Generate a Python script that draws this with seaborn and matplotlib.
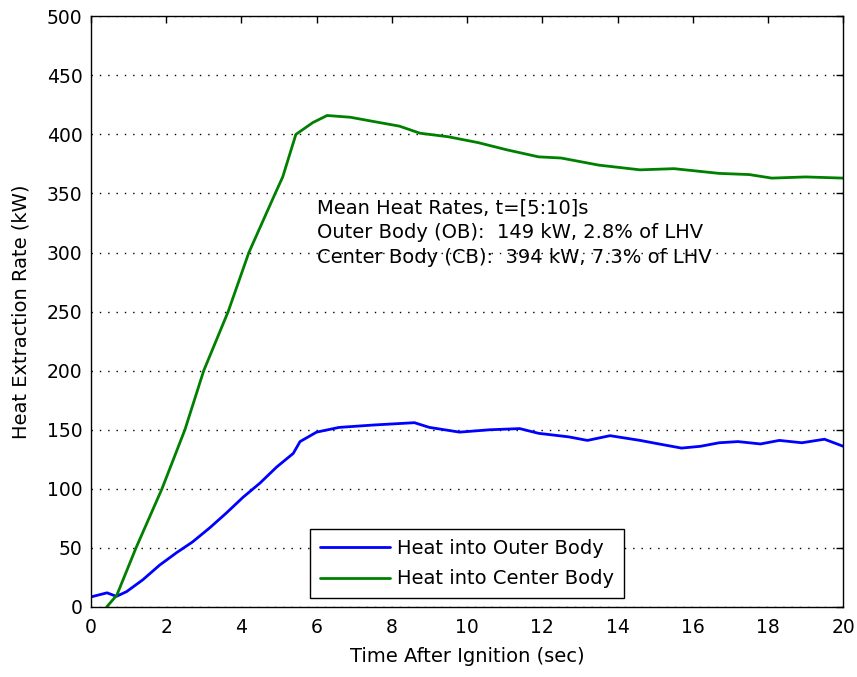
import matplotlib
matplotlib.use("Agg")
import matplotlib.pyplot as plt
import pandas as pd
import numpy as np
import seaborn as sns

# datos
t_outer = [0.0, 0.43, 0.68, 0.95, 1.38, 1.83, 2.28, 2.7, 3.16, 3.6, 4.05, 4.5, 4.94, 5.38,
           5.56, 6.0, 6.6, 7.5, 8.6, 9.0, 9.8, 10.6, 11.4, 11.9, 12.7, 13.2, 13.8, 14.6,
           15.1, 15.7, 16.2, 16.7, 17.2, 17.8, 18.3, 18.9, 19.5, 20.0]
q_outer = [8.5, 12, 9, 13, 23, 35.5, 46, 55, 67, 79.5, 93, 105, 118.5, 130,
           140, 148, 152, 154, 156, 152, 148, 150, 151, 147, 144, 141, 145, 141,
           138, 134.5, 136, 139, 140, 138, 141, 139, 142, 136]

t_center = [0.42, 0.69, 1.2, 1.89, 2.5, 3.0, 3.65, 4.2, 4.9, 5.1, 5.45, 5.9, 6.28, 6.9,
            7.5, 8.2, 8.75, 9.5, 10.3, 11.05, 11.9, 12.5, 13.5, 14.6, 15.5, 16.7,
            17.5, 18.1, 19.0, 20.0]
q_center = [0, 10, 50, 100, 150, 200, 250, 300, 350, 364, 400, 410, 416, 414.5,
            411, 407, 401, 398, 393, 387, 381, 380, 374, 370, 371, 367,
            366, 363, 364, 363]

texto = ['Mean Heat Rates, t=[5:10]s',
         'Outer Body (OB):  149 kW, 2.8% of LHV',
         'Center Body (CB):  394 kW, 7.3% of LHV']

df_outer = pd.DataFrame({'t': t_outer, 'q': q_outer})
df_center = pd.DataFrame({'t': t_center, 'q': q_center})

sns.set_style("white")
plt.rcParams['font.family'] = ['DejaVu Sans']
plt.rcParams['text.color'] = 'black'
plt.rcParams['axes.labelcolor'] = 'black'
fs = 14

fig = plt.figure(figsize=(8.57, 6.77), dpi=100)
ax = fig.add_axes([0.106, 0.1034, 0.878, 0.8726])

sns.lineplot(data=df_outer, x='t', y='q', color=(0, 0, 1), lw=2, ax=ax,
             label='Heat into Outer Body')
sns.lineplot(data=df_center, x='t', y='q', color=(0, 0.5, 0), lw=2, ax=ax,
             label='Heat into Center Body')

ax.set_xlim(0, 20)
ax.set_ylim(0, 500)
ax.set_xticks(range(0, 21, 2))
ax.set_yticks(range(0, 501, 50))
ax.tick_params(direction='in', top=True, right=True, length=5, width=1,
               labelsize=13.5, colors='black')
ax.tick_params(axis='x', pad=8)
ax.tick_params(axis='y', pad=6)
for s in ax.spines.values():
    s.set_color('black')
    s.set_linewidth(1)
ax.yaxis.grid(True, color='black', linestyle=(0, (1, 5)), linewidth=1)
ax.set_axisbelow(True)

ax.set_xlabel('Time After Ignition (sec)', fontsize=fs, labelpad=7)
ax.set_ylabel('Heat Extraction Rate (kW)', fontsize=fs, labelpad=12)

for i, linea in enumerate(texto):
    ax.text(6.0, 338 - i * 21, linea, fontsize=fs, va='center', ha='left')

leg = ax.legend(loc='lower center', bbox_to_anchor=(0.5, 0.015), fontsize=fs,
                fancybox=False, framealpha=1, edgecolor='black', borderpad=0.5,
                borderaxespad=0, handlelength=3.6, handletextpad=0.4,
                labelspacing=0.6)
leg.get_frame().set_linewidth(1)

fig.savefig('out.png', dpi=100)
